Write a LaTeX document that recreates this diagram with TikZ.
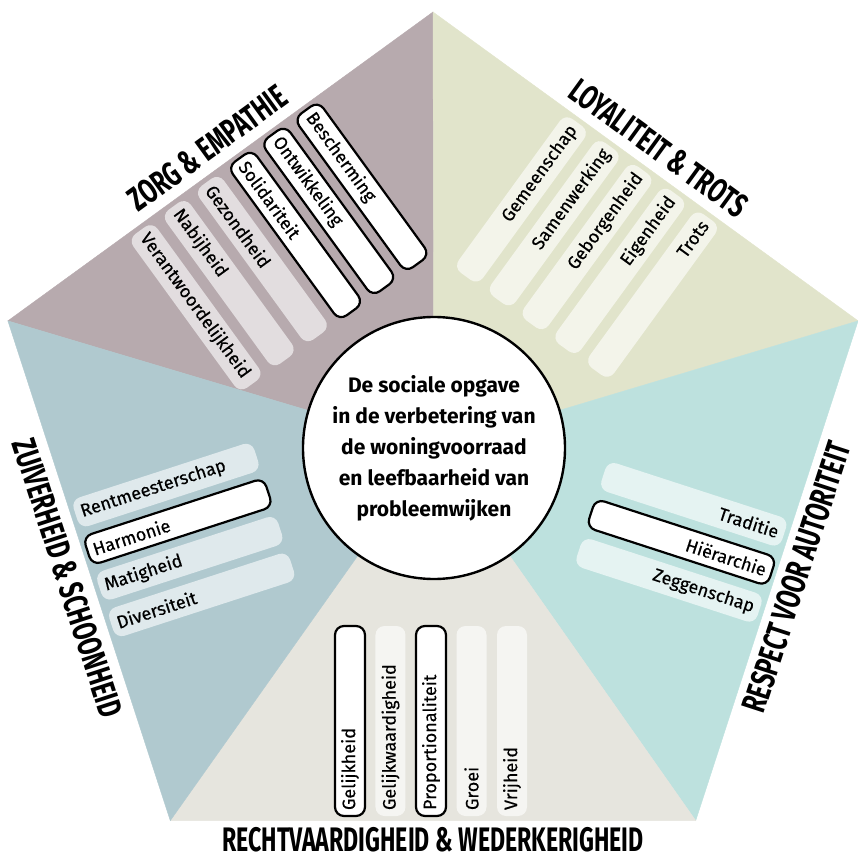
\documentclass[tikz,border=0pt]{standalone}
\usepackage{fontspec}
\usepackage{graphicx}
\setmainfont{Fira Sans}
\newfontfamily\pillfont{Fira Sans}[FakeBold=0.4]
\usetikzlibrary{positioning}
\usetikzlibrary{calc}
\def\pillr{262}
\def\titler{384}
\newcommand{\squeezed}[1]{\scalebox{0.68}[1]{#1}}
\definecolor{zorg}{RGB}{183,170,174}
\definecolor{loyal}{RGB}{225,228,203}
\definecolor{respect}{RGB}{189,225,222}
\definecolor{recht}{RGB}{230,229,222}
\definecolor{zuiver}{RGB}{176,201,207}

\begin{document}
\begin{tikzpicture}[x=1pt, y=1pt]
        \tikzstyle{pill}=[rectangle, rounded corners=9pt, minimum width=190pt, minimum height=30pt, inner xsep=6pt, inner ysep=0pt, text width=178pt, font=\pillfont\fontsize{18}{20}\selectfont]
        \tikzstyle{chosen}=[fill=white, draw=black, line width=2.2pt]
        \tikzstyle{zorg pill}=[fill=zorg!40!white]
        \tikzstyle{loyal pill}=[fill=loyal!40!white]
        \tikzstyle{respect pill}=[fill=respect!40!white]
        \tikzstyle{recht pill}=[fill=recht!40!white]
        \tikzstyle{zuiver pill}=[fill=zuiver!40!white]
        \tikzstyle{title}=[inner sep=0pt, font=\bfseries\fontsize{34}{36}\selectfont]
        \tikzstyle{hub}=[circle, draw=black, line width=2.4pt, fill=white, minimum size=262pt, align=center, font=\bfseries\fontsize{21}{31}\selectfont]

        \useasboundingbox (-433,-400) rectangle (424,459);

        % Corners of the pentagon and the middle of the circle
        \foreach \k/\ang in {1/90, 2/162, 3/234, 4/306, 5/18}
            \coordinate (V-\k) at (\ang:447);
        \coordinate (C) at (1,11);

        % Five coloured sectors
        \foreach \a/\b/\col in {1/2/zorg, 5/1/loyal, 4/5/respect, 3/4/recht, 2/3/zuiver}
            \fill[\col, draw=\col, line width=0.4pt] (C) -- (V-\a) -- (V-\b) -- cycle;

        % Zorg & empathie
        \foreach \word/\t/\kind [count=\i] in {Verantwoordelijkheid/-102.5/zorg pill, Nabijheid/-61.5/zorg pill, Gezondheid/-20.5/zorg pill, Solidariteit/20.5/chosen, Ontwikkeling/61.5/chosen, Bescherming/102.5/chosen}
            \node[pill, \kind, align=left, rotate=-54] (Z-\i) at ($(126:\pillr)+(36:\t)$) {\word};

        % Loyaliteit & trots
        \foreach \word/\t [count=\i] in {Gemeenschap/-81, Samenwerking/-40.5, Geborgenheid/0, Eigenheid/40.5, Trots/81}
            \node[pill, loyal pill, align=right, rotate=54] (L-\i) at ($(54:\pillr)+(-36:\t)$) {\word};

        % Respect voor autoriteit
        \foreach \word/\t/\kind [count=\i] in {Traditie/-37.5/respect pill, Hiërarchie/2.5/chosen, Zeggenschap/42.5/respect pill}
            \node[pill, \kind, align=right, rotate=-18] (R-\i) at ($(-18:\pillr)+(-108:\t)$) {\word};

        % Rechtvaardigheid & wederkerigheid
        \foreach \word/\t/\kind [count=\i] in {Gelijkheid/83/chosen, Gelijkwaardigheid/42.5/recht pill, Proportionaliteit/2/chosen, Groei/-38.5/recht pill, Vrijheid/-79/recht pill}
            \node[pill, \kind, align=left, rotate=90] (W-\i) at ($(270:\pillr)+(180:\t)$) {\word};

        % Zuiverheid & schoonheid
        \foreach \word/\t/\kind [count=\i] in {Rentmeesterschap/57.75/zuiver pill, Harmonie/19.25/chosen, Matigheid/-19.25/zuiver pill, Diversiteit/-57.75/zuiver pill}
            \node[pill, \kind, align=left, rotate=18] (S-\i) at ($(198:\pillr)+(108:\t)$) {\word};

        % Titles outside the edges
        \node[title, rotate=36] (zorg) at (126:\titler) {\squeezed{ZORG \& EMPATHIE}};
        \node[title, rotate=-36] (loyal) at (54:\titler) {\squeezed{LOYALITEIT \& TROTS}};
        \node[title, rotate=72] (respect) at (-18:382) {\squeezed{RESPECT VOOR AUTORITEIT}};
        \node[title] (recht) at (270:381) {\squeezed{RECHTVAARDIGHEID \& WEDERKERIGHEID}};
        \node[title, rotate=-72] (zuiver) at (198:\titler) {\squeezed{ZUIVERHEID \& SCHOONHEID}};

        % Circle in the middle
        \node[hub] (hub) at (C) {De sociale opgave\\in de verbetering van\\de woningvoorraad\\en leefbaarheid van\\probleemwijken};

\end{tikzpicture}
\end{document}
